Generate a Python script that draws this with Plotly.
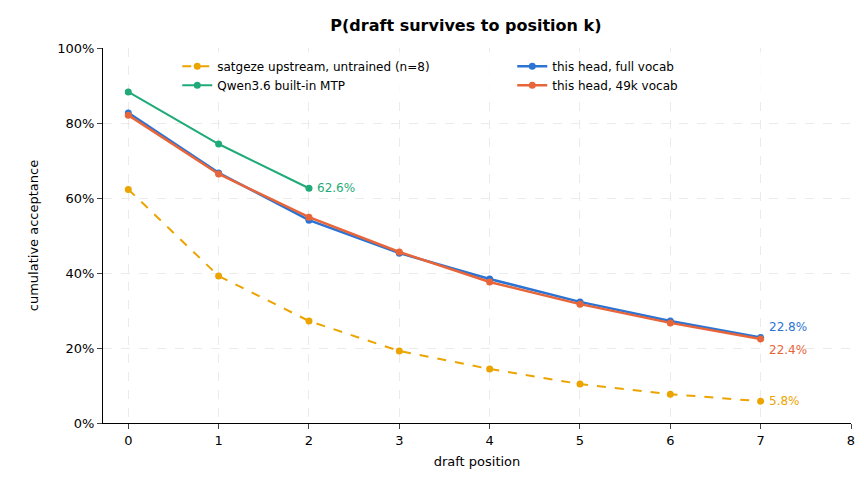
import plotly.graph_objects as go

positions = [0, 1, 2, 3, 4, 5, 6, 7]
upstream = [62.3, 39.2, 27.2, 19.2, 14.4, 10.4, 7.7, 5.8]
mtp_pos = [0, 1, 2]
mtp = [88.3, 74.4, 62.6]
full_vocab = [82.7, 66.7, 54.1, 45.3, 38.4, 32.3, 27.2, 22.8]
vocab49k = [82.1, 66.4, 54.9, 45.6, 37.6, 31.7, 26.7, 22.4]
y_ticks = [0, 20, 40, 60, 80, 100]

ORANGE = "#eba400"
GREEN = "#1faa78"
BLUE = "#2b74d4"
RED = "#e8653a"

fig = go.Figure()
fig.add_trace(go.Scatter(x=positions, y=upstream, mode="lines+markers",
                         name="satgeze upstream, untrained (n=8)",
                         line=dict(color=ORANGE, width=2, dash="dash"), marker=dict(size=7)))
fig.add_trace(go.Scatter(x=positions, y=full_vocab, mode="lines+markers", name="this head, full vocab",
                         line=dict(color=BLUE, width=2.5), marker=dict(size=7)))
fig.add_trace(go.Scatter(x=mtp_pos, y=mtp, mode="lines+markers", name="Qwen3.6 built-in MTP",
                         line=dict(color=GREEN, width=2), marker=dict(size=7)))
fig.add_trace(go.Scatter(x=positions, y=vocab49k, mode="lines+markers", name="this head, 49k vocab",
                         line=dict(color=RED, width=2.5), marker=dict(size=7)))

for x, y, txt, c, dy in [(2, mtp[-1], "62.6%", GREEN, 0), (7, full_vocab[-1], "22.8%", BLUE, 7),
                         (7, vocab49k[-1], "22.4%", RED, -7), (7, upstream[-1], "5.8%", ORANGE, 0)]:
    fig.add_annotation(x=x, y=y + dy * 0.4, text=txt, showarrow=False, xanchor="left",
                       xshift=6, font=dict(size=12, color=c))

fig.update_layout(
    width=864, height=480, plot_bgcolor="white", paper_bgcolor="white",
    font=dict(family="DejaVu Sans", size=13, color="black"),
    title=dict(text="<b>P(draft survives to position k)</b>", x=0.53, y=0.975, xanchor="center",
               font=dict(size=16)),
    margin=dict(l=95, r=21, t=40, b=65),
    legend=dict(x=0.995, y=0.99, xanchor="right", yanchor="top", orientation="h",
                entrywidth=290, font=dict(size=12), bgcolor="rgba(255,255,255,0.8)"),
    showlegend=True,
)
fig.update_xaxes(range=[-0.28, 8], tickvals=list(range(9)), title_text="draft position",
                 title_font_size=13, title_standoff=10, automargin=False,
                 showline=True, linecolor="black", ticks="outside", zeroline=False,
                 showgrid=True, gridcolor="#ebebeb", griddash="dash")
fig.update_yaxes(range=[0, 100], tickvals=y_ticks, ticktext=[f"{v}%" for v in y_ticks],
                 title_text="cumulative acceptance", title_font_size=13, automargin=False,
                 showline=True, linecolor="black",
                 ticks="outside", zeroline=False, showgrid=True, gridcolor="#ebebeb", griddash="dash")

fig.write_html("out.html")
